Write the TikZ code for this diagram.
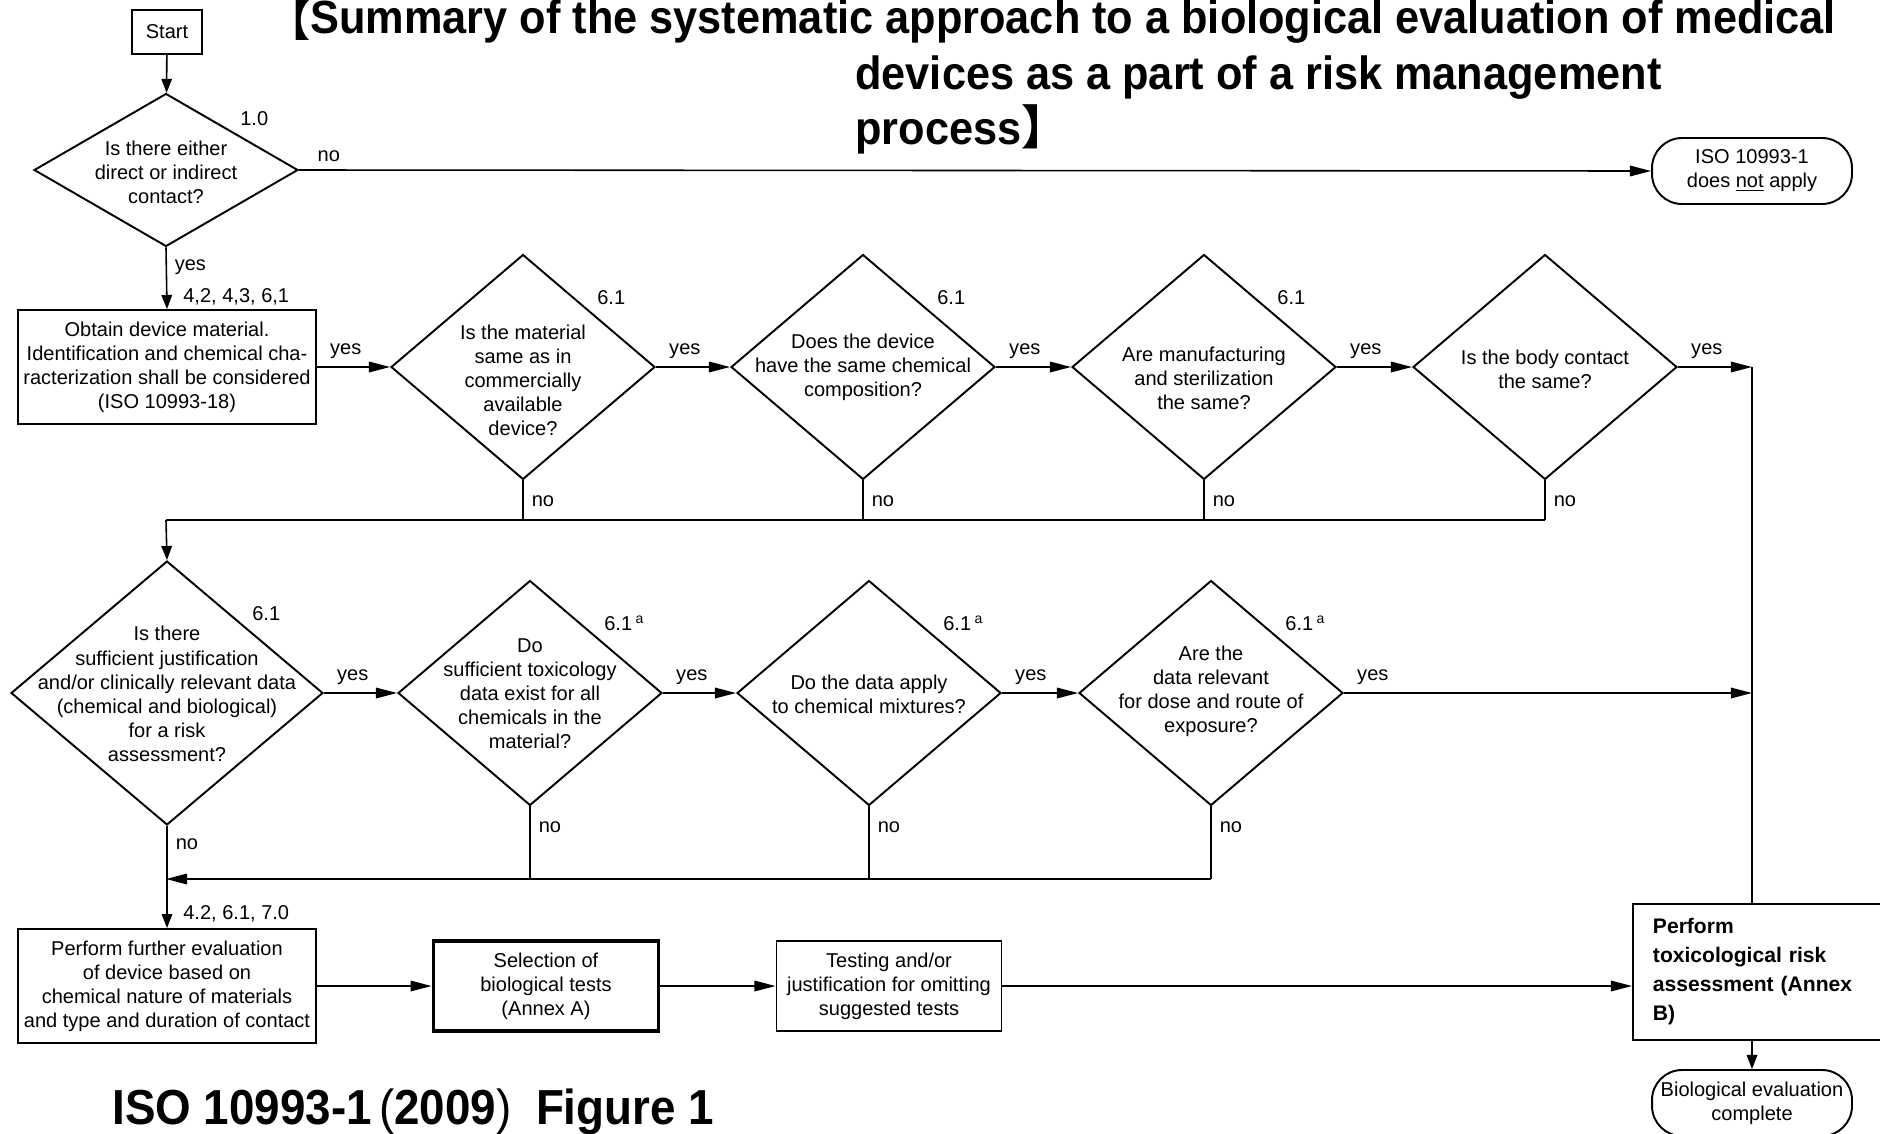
\documentclass[tikz,border=0pt]{standalone}
\usepackage{fontspec}
\setmainfont{Liberation Sans}
\newfontfamily\cjkfont{Noto Sans CJK JP}
\newfontfamily\headfont[FakeStretch=0.93]{Liberation Sans}
\usetikzlibrary{shapes.geometric, arrows.meta}

\begin{document}
\begin{tikzpicture}[
  x=0.02cm, y=-0.02cm,
  every node/.style={font=\fontsize{11.4}{13.7}\selectfont, align=center, inner sep=0pt},
  box/.style={draw, line width=1.1pt, minimum width=5.96cm, minimum height=2.28cm},
  smallbox/.style={draw, line width=1.1pt, minimum width=4.5cm, minimum height=1.8cm},
  term/.style={draw, line width=1.1pt, rounded corners=0.6cm, minimum width=4cm, minimum height=1.32cm},
  decision/.style={diamond, draw, line width=1.1pt, minimum width=5.28cm, minimum height=4.5cm},
  heading/.style={anchor=base west, font=\headfont\bfseries\fontsize{26.5}{32}\selectfont},
  reflbl/.style={anchor=base west},
  conn/.style={line width=0.9pt},
  arr/.style={conn, -{Triangle[length=12pt,width=6pt]}},
  varr/.style={conn, -{Triangle[length=8pt,width=6pt]}},
  yeslbl/.style={at start, anchor=base west, xshift=0.25cm, yshift=0.25cm},
  nolbl/.style={at start, anchor=base west, xshift=0.16cm, yshift=-0.52cm}
]
\useasboundingbox (0,0) rectangle (1880,1133);

% heading
\node[heading] (title1) at (268,33) {\raisebox{-0.08em}{\cjkfont\bfseries\fontsize{24}{28}\selectfont 【}Summary of the systematic approach to a biological evaluation of medical};
\node[heading] (title2) at (855,89) {devices as a part of a risk management};
\node[heading] (title3) at (855,144) {process{\cjkfont\bfseries 】}};

% contact question
\node[draw, line width=1.1pt, minimum width=1.4cm, minimum height=0.88cm] (start) at (167,32) {Start};
\node[decision, minimum height=3.06cm] (q1) at (166,170) {};
\node (q1txt) at (166,172) {Is there either\\direct or indirect\\contact?};
\node[reflbl] (r1) at (240,125) {1.0};
\node[term] (noapply) at (1752,171) {ISO 10993-1\\does \underline{not} apply};

% first row of questions
\node[box] (obtain) at (167,367) {Obtain device material.\\Identification and chemical cha-\\racterization shall be considered\\(ISO 10993-18)};
\node[reflbl] (r0) at (183,302) {4,2, 4,3, 6,1};

\node[decision] (qmat) at (523,367) {};
\node (qmattxt) at (523,380) {Is the material\\same as in\\commercially\\available\\device?};
\node[reflbl] (rmat) at (597,304) {6.1};

\node[decision] (qchem) at (863,367) {};
\node (qchemtxt) at (863,367) {Does the device\\have the same chemical\\composition?};
\node[reflbl] (rchem) at (937,304) {6.1};

\node[decision] (qster) at (1204,367) {};
\node (qstertxt) at (1204,378) {Are manufacturing\\and sterilization\\the same?};
\node[reflbl] (rster) at (1277,304) {6.1};

\node[decision] (qbody) at (1545,367) {};
\node (qbodytxt) at (1545,369) {Is the body contact\\the same?};

% second row of questions
\node[decision, minimum width=6.24cm, minimum height=5.28cm] (qjust) at (167,693) {};
\node (qjusttxt) at (167,694) {Is there\\sufficient justification\\and/or clinically relevant data\\(chemical and biological)\\for a risk\\assessment?};
\node[reflbl] (rjust) at (252,620) {6.1};

\node[decision] (qtox) at (530,693) {};
\node (qtoxtxt) at (530,694) {Do\\sufficient toxicology\\data exist for all\\chemicals in the\\material?};
\node[reflbl] (rtox) at (604,630) {6.1\,\textsuperscript{a}};

\node[decision] (qmix) at (869,693) {};
\node (qmixtxt) at (869,694) {Do the data apply\\to chemical mixtures?};
\node[reflbl] (rmix) at (943,630) {6.1\,\textsuperscript{a}};

\node[decision] (qdose) at (1211,693) {};
\node (qdosetxt) at (1211,691) {Are the\\data relevant\\for dose and route of\\exposure?};
\node[reflbl] (rdose) at (1285,630) {6.1\,\textsuperscript{a}};

% evaluation and testing
\node[box] (further) at (167,986) {Perform further evaluation\\of device based on\\chemical nature of materials\\and type and duration of contact};
\node[reflbl] (rfurther) at (183,919) {4.2, 6.1, 7.0};
\node[smallbox, line width=2.2pt] (select) at (546,986) {Selection of\\biological tests\\(Annex A)};
\node[smallbox] (testing) at (889,986) {Testing and/or\\justification for omitting\\suggested tests};
\node[draw, line width=1.1pt, anchor=west, text width=5cm, inner xsep=0.4cm, minimum height=2.72cm,
  align=left, font=\bfseries\fontsize{12}{16.5}\selectfont] (toxic) at (1632,972) {Perform\\toxicological risk\\assessment (Annex\\B)};
\node[term] (complete) at (1752,1103) {Biological evaluation\\complete};

\node[heading, font=\headfont\bfseries\fontsize{28}{32}\selectfont] (figref) at (112,1124)
  {ISO 10993-1\hspace{0.15em}{\mdseries(}2009{\mdseries)}\hspace{0.5em}Figure 1};

\coordinate (join1) at (166,520);
\coordinate (join2) at (166,879);
\coordinate (riskcol) at (1752,367);

% connectors
\draw[varr] (start) -- (q1);
\draw[arr] (q1.east) -- node[at start, anchor=base west, xshift=0.36cm, yshift=0.18cm] (n1) {no} (noapply.west);
\draw[varr] (q1.south) -- node[at start, anchor=base west, xshift=0.16cm, yshift=-0.46cm] (y0) {yes} (obtain.north);

\draw[arr] (obtain.east) -- node[yeslbl] (y1) {yes} (qmat.west);
\draw[arr] (qmat.east) -- node[yeslbl] (y2) {yes} (qchem.west);
\draw[arr] (qchem.east) -- node[yeslbl] (y3) {yes} (qster.west);
\draw[arr] (qster.east) -- node[yeslbl] (y4) {yes} (qbody.west);
\draw[arr] (qbody.east) -- node[yeslbl] (y5) {yes} (riskcol);

\draw[conn] (qmat.south) -- node[nolbl] (n2) {no} (qmat.south |- join1);
\draw[conn] (qchem.south) -- node[nolbl] (n3) {no} (qchem.south |- join1);
\draw[conn] (qster.south) -- node[nolbl] (n4) {no} (qster.south |- join1);
\draw[conn] (qbody.south) -- node[nolbl] (n5) {no} (qbody.south |- join1);
\draw[conn] (qbody.south |- join1) -- (join1);
\draw[varr] (join1) -- (qjust.north);

\draw[arr] (qjust.east) -- node[yeslbl] (y6) {yes} (qtox.west);
\draw[arr] (qtox.east) -- node[yeslbl] (y7) {yes} (qmix.west);
\draw[arr] (qmix.east) -- node[yeslbl] (y8) {yes} (qdose.west);
\draw[arr] (qdose.east) -- node[yeslbl] (y9) {yes} (riskcol |- qdose.east);

\draw[conn] (qtox.south) -- node[nolbl] (n7) {no} (qtox.south |- join2);
\draw[conn] (qmix.south) -- node[nolbl] (n8) {no} (qmix.south |- join2);
\draw[conn] (qdose.south) -- node[nolbl] (n9) {no} (qdose.south |- join2);
\draw[arr] (qdose.south |- join2) -- (join2);
\draw[varr] (qjust.south) -- node[nolbl, yshift=0.04cm] (n6) {no} (further.north);

\draw[arr] (further.east) -- (select.west);
\draw[arr] (select.east) -- (testing.west);
\draw[arr] (testing.east) -- (testing.east -| toxic.west);
\draw[conn] (riskcol) -- (riskcol |- toxic.north);
\draw[varr] (toxic.south -| complete.north) -- (complete.north);
\end{tikzpicture}
\end{document}
